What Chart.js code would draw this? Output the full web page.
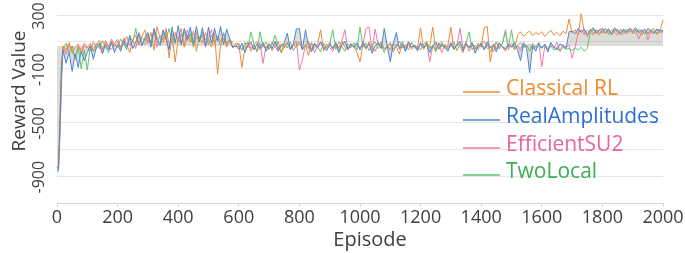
<!DOCTYPE html>
<html>
<head>
<meta charset="utf-8">
<script src="https://cdn.jsdelivr.net/npm/chart.js@4/dist/chart.umd.min.js"></script>
<style>
    body { margin: 0; background: #fff; }
    #wrap { width: 685px; height: 253px; position: relative; }
</style>
</head>
<body>
<div id="wrap"><canvas id="chart"></canvas></div>
<script>
// Episodes: a few early points, then every 10 episodes up to 2000
const episodes = [0, 5, 10, 15];
for (let e = 20; e <= 2000; e += 10) episodes.push(e);

const xTicks = [0, 200, 400, 600, 800, 1000, 1200, 1400, 1600, 1800, 2000];
const yTickLabels = [300, -100, -500, -900];

const classicalRL = [
    -830, -850, -420, -60,
    70, 40, 95, 20, 60, 85, 10, 75,
    55, 90, 30, 80, 110, 45, 95, 60, 120, 70,
    100, 50, 130, 85, 20, 115, 150, 75, 140, 190,
    90, 170, 40, 210, 130, 95, 180, -20, 160, -50,
    120, 200, 60, 150, 100, 180, 30, 140, 90, 170,
    110, 60, 160, -140, 80, 130, 70, 120, 55, 90,
    85, -90, 45, 95, 30, 80, 100, 40, 75, 55,
    90, 35, 70, 105, 20, 65, 95, 45, 80, 60,
    100, 40, 75, 0, 90, 55, 85, 190, 35, 70,
    95, 50, 80, 30, 105, 60, 40, 90, 65, 20,
    -50, 85, 45, 100, 60, 30, 80, 95, 50, 70,
    40, 90, 65, 10, 85, 55, 100, 45, 75, 60,
    205, 45, 90, 60, 210, 35, 80, 100, 50, 75,
    210, 40, 85, 65, 20, 95, 55, 80, 45, 90,
    60, 205, 215, -50, 85, 45, 95, 60, 30, 80,
    70, 45, 150, 175, 140, 165, 180, 145, 170, 155,
    175, 140, 165, 185, 150, 170, 145, 180, 160, 270,
    165, 190, 150, 310, 175, 140, 195, 160, 185, 150,
    190, 160, 200, 155, 180, 195, 150, 185, 170, 200,
    160, 190, 175, 150, 195, 165, 185, 200, 155, 180,
    265
];

const realAmplitudes = [
    -870, -860, -500, -100,
    40, -60, 20, -120, 10, -90, 30, -40,
    20, 70, -30, 60, 90, 10, 80, 40, 100, 20,
    80, 30, 110, 60, 140, 50, 100, 160, 70, 130,
    170, 60, 200, 110, 80, 190, 120, 40, 210, 90,
    220, 80, 200, 120, 210, 90, 215, 100, 205, 70,
    210, 90, 200, 110, 215, 80, 195, 120, 60, 70,
    45, 90, 20, 75, 100, 40, 85, 55, 95, 30,
    80, 50, 105, 35, 70, 95, 165, 45, 85, 195,
    200, 40, 190, 70, 25, 90, 55, 100, 60, 35,
    85, 50, 95, 20, 75, 105, 45, 80, 60, 90,
    40, 100, 55, 85, 15, 70, 95, 50, 200, 65,
    -50, 90, 170, 45, 80, 30, 100, 60, 75, 40,
    95, 55, 80, 20, 70, 100, 45, 85, 60, 30,
    90, 50, 75, 105, 35, 80, 60, 95, 15, 70,
    85, 40, 100, 55, 75, 25, 90, 65, 45, 80,
    60, 95, 40, -40, 85, 50, -130, 75, 30, 90,
    55, 80, 25, 95, 60, 40, 85, 70, 50, 175,
    180, 160, 200, 170, 195, 155, 185, 205, 165, 190,
    200, 170, 190, 160, 205, 180, 165, 195, 175, 200,
    185, 205, 170, 190, 160, 200, 180, 165, 195, 185,
    182
];

const efficientSU2 = [
    -840, -820, -600, -200,
    60, 10, 80, 30, -20, 70, 40, 90,
    60, 30, 100, 50, 80, 20, 110, 70, 40, 90,
    120, 60, 90, 140, 70, 110, 50, 170, 100, 80,
    140, 90, 180, 60, 150, 110, 200, 80, 130, 170,
    100, 160, 70, 190, 120, 80, 170, 110, 150, 60,
    130, 190, 80, 140, 100, 170, 60, 120, 90, 70,
    90, 35, 75, 100, 50, 80, 25, 95, -60, 70,
    45, 100, 60, 30, 85, 55, 95, 40, 75, 105,
    -110, -35, 80, 50, 95, 20, 70, 100, 45, 85,
    60, 30, 90, 55, 105, 190, 40, 80, 65, 95,
    50, 85, 200, 210, 35, 195, 75, 100, 45, 60,
    90, 25, 70, 105, 55, 80, 40, 95, 65, 30,
    85, 50, 100, -50, 70, 45, 90, 20, 80, 60,
    95, 40, 75, 200, 55, 100, 30, 85, 60, 45,
    80, 105, 50, 70, 25, 95, 60, 85, 190, 40,
    90, 55, 75, 35, 100, 60, 85, 45, 70, 95,
    -85, 70, 40, 90, 55, 100, 30, 80, 60, 75,
    -20, 60, 165, 190, 155, 185, 170, 150, 195, 165,
    180, 200, 155, 190, 170, 150, 195, 175, 160, 185,
    170, 190, 120, 180, 195, 115, 175, 160, 190, 170,
    175
];

const twoLocal = [
    -850, -840, -550, -150,
    50, 90, 20, 70, -30, 60, -100, 40,
    -110, 70, 30, 90, 50, 110, 60, 20, 100, 80,
    60, 120, 90, 40, 150, 100, 200, 80, 130, 110,
    160, 100, 190, 140, 70, 170, 120, 200, 90, 150,
    130, 80, 180, 110, 160, 60, 140, 100, 170, 120,
    80, 150, 100, 130, 70, 160, 90, 110, 60, 70,
    70, 40, 95, 55, 175, 85, 30, 175, 60, 100,
    45, 80, 150, 65, 20, 90, 55, 100, 35, 75,
    95, 50, 70, 105, 40, 85, 60, 25, 90, 55,
    80, 190, 45, 100, 65, 30, 85, 55, 95, 40,
    210, 60, 90, 35, 75, 100, 50, 85, 20, 70,
    95, 45, 80, 60, 105, 30, 75, 90, 55, 65,
    40, 85, 100, 50, 75, 25, 95, 60, 80, 45,
    70, 100, 35, 85, 55, 90, 175, 40, 75, 60,
    95, 50, 80, 25, 70, 100, 45, 85, 175, 60,
    190, 40, 75, 95, 55, 80, 30, 90, 60, 70,
    50, 85, 35, 70, 40, 55, 30, 60, 45, 50,
    35, 55, 40, 60, 30, 50, 172, 190, 160, 185,
    165, 195, 175, 150, 190, 170, 185, 160, 195, 175,
    180, 160, 195, 170, 185, 155, 190, 175, 165, 185,
    172
];

const seriesNames = ['Classical RL', 'RealAmplitudes', 'EfficientSU2', 'TwoLocal'];
const lineColors = ['#F0883A', '#4B86D6', '#EE7AA8', '#5CC56A'];
const textColors = ['#EE8A2E', '#2F70CF', '#E8659E', '#3CAF55'];

function toPoints(values) {
    return values.map((v, i) => ({ x: episodes[i], y: v }));
}

const FONT = '"Open Sans", "DejaVu Sans", sans-serif';

// Draws y tick labels (rotated), axis titles and the in-plot legend
const overlayPlugin = {
    id: 'overlay',
    afterDraw(chart) {
        const ctx = chart.ctx;
        const y = chart.scales.y;
        ctx.save();
        ctx.fillStyle = '#404040';
        ctx.textAlign = 'center';
        ctx.textBaseline = 'middle';

        ctx.font = '16px ' + FONT;
        yTickLabels.forEach(v => {
            ctx.save();
            ctx.translate(39, y.getPixelForValue(v) + 1);
            ctx.rotate(-Math.PI / 2);
            ctx.fillText(String(v), 0, 0);
            ctx.restore();
        });

        ctx.font = '19px ' + FONT;
        ctx.save();
        ctx.translate(20, 91);
        ctx.rotate(-Math.PI / 2);
        ctx.fillText('Reward Value', 0, 0);
        ctx.restore();

        ctx.font = '20px ' + FONT;
        ctx.fillText('Episode', 370, 240);

        // legend
        const baselines = [95, 123, 151, 178];
        ctx.font = '21px ' + FONT;
        ctx.textAlign = 'left';
        ctx.textBaseline = 'alphabetic';
        seriesNames.forEach((name, i) => {
            ctx.strokeStyle = lineColors[i];
            ctx.lineWidth = 1.5;
            ctx.beginPath();
            ctx.moveTo(463, baselines[i] - 3);
            ctx.lineTo(500, baselines[i] - 3);
            ctx.stroke();
            ctx.fillStyle = textColors[i];
            ctx.fillText(name, 506, baselines[i]);
        });
        ctx.restore();
    }
};

const datasets = [classicalRL, realAmplitudes, efficientSU2, twoLocal].map((vals, i) => ({
    label: seriesNames[i],
    data: toPoints(vals),
    borderColor: lineColors[i],
    backgroundColor: lineColors[i],
    borderWidth: 1,
    pointRadius: 0,
    tension: 0,
    fill: false,
    clip: 4,
    order: [1, 0, 3, 2][i]
}));

// grey band under the RealAmplitudes curve
datasets[1].fill = { target: { value: 70 }, above: 'rgba(190,186,175,0.5)', below: 'rgba(190,186,175,0.5)' };

new Chart(document.getElementById('chart'), {
    type: 'line',
    data: { datasets: datasets },
    options: {
        responsive: true,
        maintainAspectRatio: false,
        animation: false,
        layout: { padding: { top: 15, right: 22, left: 0, bottom: 0 } },
        plugins: {
            legend: { display: false },
            tooltip: { enabled: false },
            filler: { drawTime: 'beforeDatasetsDraw' }
        },
        scales: {
            x: {
                type: 'linear',
                min: 0,
                max: 2000,
                afterFit: scale => { scale.height = 50; },
                afterBuildTicks: scale => { scale.ticks = xTicks.map(v => ({ value: v })); },
                ticks: {
                    color: '#404040',
                    font: { family: FONT, size: 18 },
                    padding: 0,
                    maxRotation: 0,
                    autoSkip: false,
                    callback: v => String(v)
                },
                grid: { drawOnChartArea: false, drawTicks: true, tickLength: 4, color: '#d9d9d9' },
                border: { display: true, color: '#d9d9d9' }
            },
            y: {
                min: -1100,
                max: 300,
                afterFit: scale => { scale.width = 57; },
                ticks: { display: false, stepSize: 200 },
                grid: { color: '#e6e6e6', drawTicks: false },
                border: { display: false }
            }
        }
    },
    plugins: [overlayPlugin]
});
</script>
</body>
</html>
